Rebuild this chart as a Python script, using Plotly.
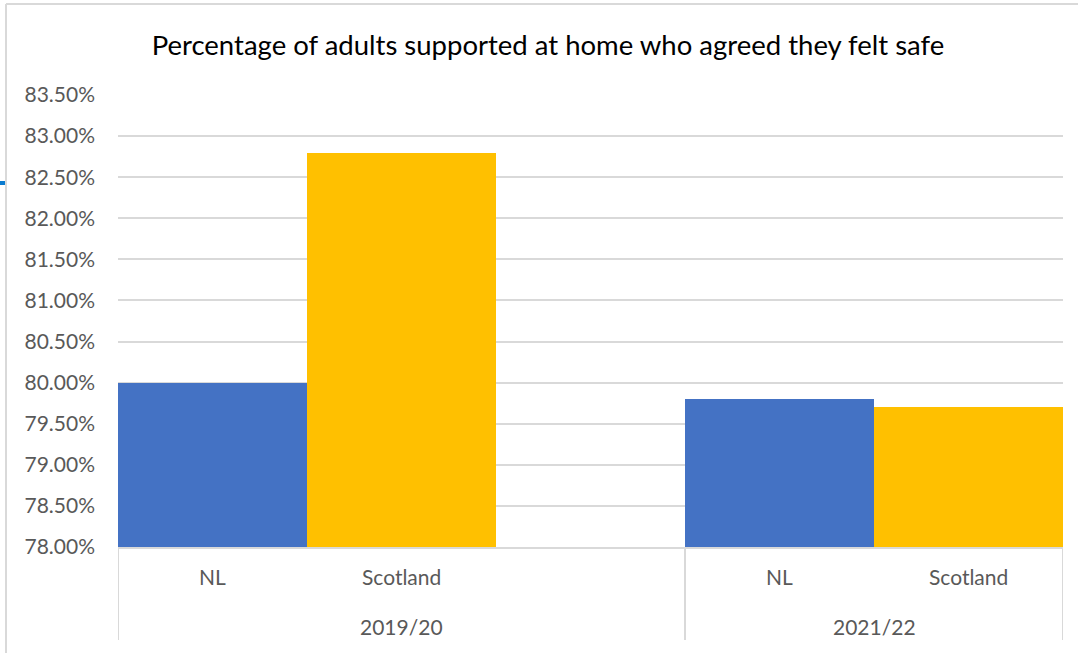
import plotly.graph_objects as go

# Survey results: share of adults supported at home who agreed they felt safe
years = ["2019/20", "2021/22"]
areas = ["NL", "Scotland"]
nl_values = [0.800, 0.798]
scotland_values = [0.828, 0.797]

y_min, y_max, y_step = 0.78, 0.835, 0.005

# Slot layout along the category axis: the first year carries an empty
# third slot, so each year's span is the sum of its slots.
slots_per_year = [3, 2]
starts = []
pos = 0
for n in slots_per_year:
    starts.append(pos)
    pos += n
x_lo, x_hi = -0.5, pos - 0.5

nl_x = [s + 0 for s in starts]
sc_x = [s + 1 for s in starts]

BLUE = "#4472C4"
GOLD = "#FFC000"
GRID = "#D9D9D9"
LABEL = "#595959"
FONT = "Lato, 'Open Sans', sans-serif"
LABEL_SIZE = 21

fig = go.Figure()
fig.add_trace(go.Bar(x=nl_x, y=nl_values, width=1.0, name=areas[0],
                     marker=dict(color=BLUE, line=dict(width=0))))
fig.add_trace(go.Bar(x=sc_x, y=scotland_values, width=1.0, name=areas[1],
                     marker=dict(color=GOLD, line=dict(width=0))))

W, H = 1078, 653
ml, mr, mt, mb = 118, 15, 95, 106
pw, ph = W - ml - mr, H - mt - mb

def py(px_down):
    """Paper y for a pixel offset below the plot bottom."""
    return -px_down / ph

annotations = []
# inner category labels
for s in starts:
    for i, a in enumerate(areas):
        annotations.append(dict(x=s + i, y=py(29), xref="x", yref="paper",
                                text=a, showarrow=False, yanchor="middle",
                                font=dict(family=FONT, size=LABEL_SIZE, color=LABEL)))
# year labels, centred on each year's span
for s, n, yr in zip(starts, slots_per_year, years):
    annotations.append(dict(x=s - 0.5 + n / 2, y=py(79), xref="x", yref="paper",
                            text=yr, showarrow=False, yanchor="middle",
                            font=dict(family=FONT, size=LABEL_SIZE, color=LABEL)))

shapes = []
# separators of the multi-level category axis
for b in [x_lo] + [s - 0.5 for s in starts[1:]] + [x_hi]:
    shapes.append(dict(type="line", xref="x", yref="paper", x0=b, x1=b,
                       y0=0, y1=py(93), line=dict(color=GRID, width=2)))
# chart frame (left and top edges)
fx = (6 - ml) / pw
fy = (H - mb - 4) / ph
shapes.append(dict(type="line", xref="paper", yref="paper", x0=fx, x1=fx,
                   y0=fy, y1=py(120), line=dict(color=GRID, width=2)))
shapes.append(dict(type="line", xref="paper", yref="paper", x0=fx, x1=(W - ml + 10) / pw,
                   y0=fy, y1=fy, line=dict(color=GRID, width=2)))
# small selection handle on the frame edge
shapes.append(dict(type="rect", xref="paper", yref="paper",
                   x0=(0 - ml) / pw, x1=(5 - ml) / pw,
                   y0=(H - mb - 185) / ph, y1=(H - mb - 181) / ph,
                   fillcolor="#0A7BD0", line=dict(width=0)))

ticks = []
v = y_min
while v <= y_max + 1e-9:
    ticks.append(round(v, 4))
    v += y_step

fig.update_layout(
    width=W, height=H,
    margin=dict(l=ml, r=mr, t=mt, b=mb),
    paper_bgcolor="white", plot_bgcolor="white",
    showlegend=False,
    bargap=0,
    title=dict(text="Percentage of adults supported at home who agreed they felt safe",
               x=548 / W, xanchor="center", xref="container",
               y=1 - 45 / H, yanchor="middle", yref="container",
               font=dict(family=FONT, size=27.5, color="#000000")),
    xaxis=dict(range=[x_lo, x_hi], showticklabels=False, showgrid=False,
               zeroline=False, showline=True, linecolor=GRID, linewidth=2,
               ticks=""),
    yaxis=dict(range=[y_min, y_max], tickvals=ticks, tickformat=".2%",
               showgrid=True, gridcolor=GRID, gridwidth=2, zeroline=False,
               showline=False, ticks="", ticklabelstandoff=22,
               tickfont=dict(family=FONT, size=LABEL_SIZE, color=LABEL)),
    annotations=annotations,
    shapes=shapes,
)

fig.write_html("out.html")
